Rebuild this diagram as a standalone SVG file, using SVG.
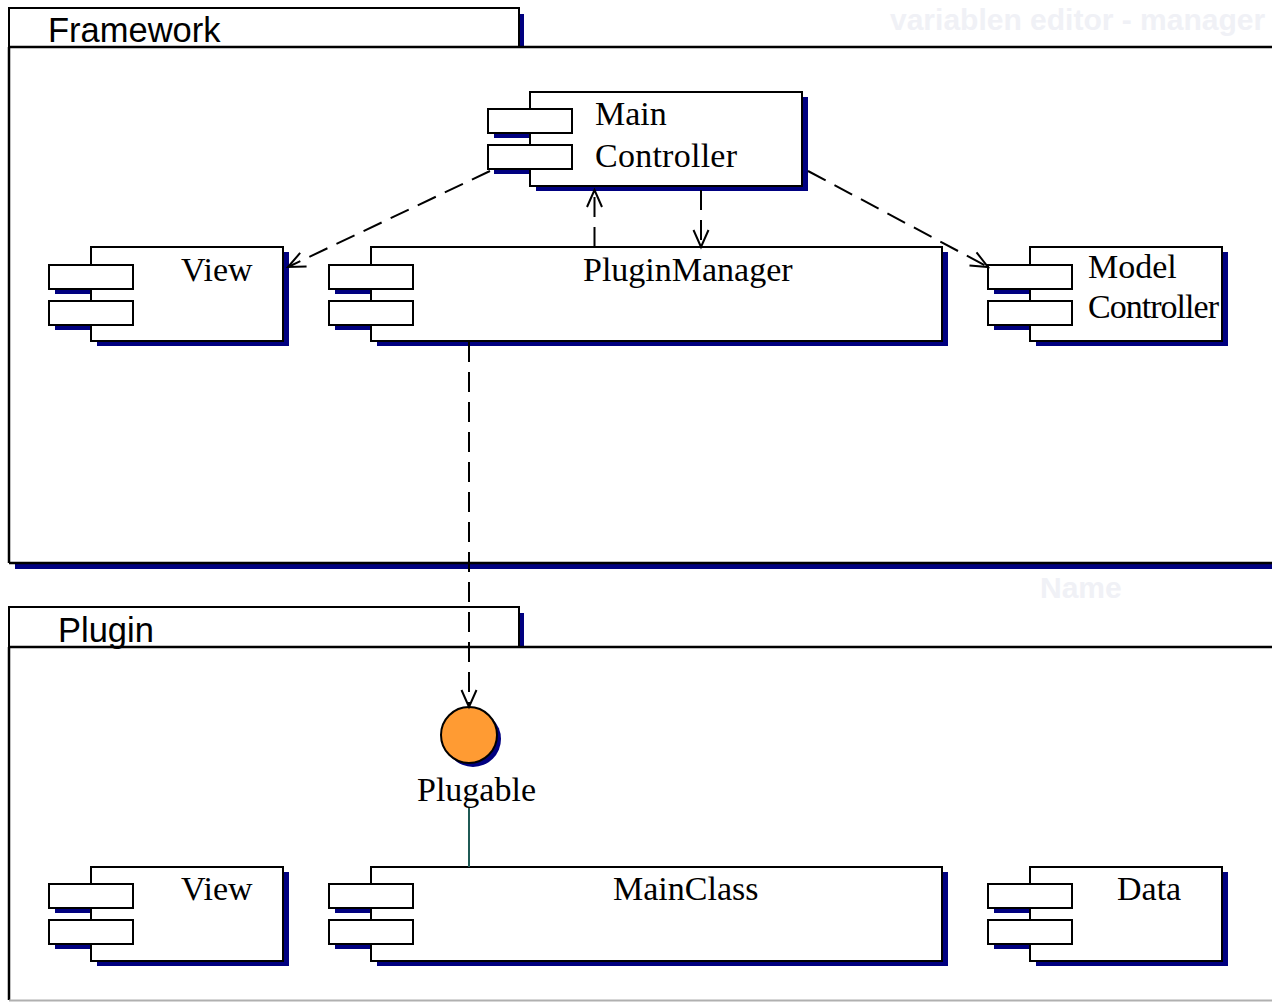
<svg xmlns="http://www.w3.org/2000/svg" width="1272" height="1002" viewBox="0 0 1272 1002">
  <style>
    .pkg { fill: #ffffff; stroke: #000000; stroke-width: 2; }
    .edge { stroke: #000000; stroke-width: 2.5; fill: none; }
    .shadow { fill: #000080; }
    .box { fill: #ffffff; stroke: #000000; stroke-width: 2; }
    .pkgname { font-family: "Liberation Sans", Arial, sans-serif; font-size: 34.5px; fill: #000000; }
    .label { font-family: "Liberation Serif", "Times New Roman", serif; font-size: 34px; fill: #000000; }
    .ghost { font-family: "Liberation Sans", Arial, sans-serif; font-weight: bold; font-size: 30px; fill: #f0f1f6; }
    .dep { stroke: #000000; stroke-width: 2; fill: none; stroke-dasharray: 20 10; }
    .link { stroke: #1f5a55; stroke-width: 2; fill: none; }
  </style>
  <defs>
    <marker id="open" markerUnits="userSpaceOnUse" markerWidth="24" markerHeight="20" viewBox="-20 -10 24 20" refX="0" refY="0" orient="auto">
      <path d="M -17 -7.5 L 0 0 L -17 7.5" fill="none" stroke="#000000" stroke-width="2" stroke-dasharray="none"/>
    </marker>
  </defs>

  <rect width="1272" height="1002" fill="#ffffff"/>

  <!-- faint background lettering -->
  <text class="ghost" x="890" y="30">variablen editor - manager</text>
  <text class="ghost" x="1040" y="598" font-size="26px">Name</text>

  <!-- Framework package -->
  <g id="pkg-framework">
    <rect class="shadow" x="519" y="14" width="5" height="33"/>
    <rect class="shadow" x="15" y="564" width="1257" height="5"/>
    <rect class="pkg" x="9" y="8" width="510" height="39"/>
    <path class="edge" d="M 9 47 L 1272 47 M 9 47 L 9 563 M 9 563 L 1272 563"/>
    <text class="pkgname" x="48" y="42">Framework</text>
  </g>

  <!-- Plugin package -->
  <g id="pkg-plugin">
    <rect class="shadow" x="519" y="613" width="5" height="34"/>
    <rect class="pkg" x="9" y="607" width="510" height="40"/>
    <path class="edge" d="M 9 647 L 1272 647 M 9 647 L 9 1000"/>
    <path d="M 9 1000.5 L 1272 1000.5" stroke="#b0b0b0" stroke-width="2"/>
    <text class="pkgname" x="58" y="642">Plugin</text>
  </g>

  <!-- Main Controller -->
  <g id="main-controller">
    <rect class="shadow" x="494" y="114" width="84" height="24"/>
    <rect class="shadow" x="494" y="150" width="84" height="24"/>
    <rect class="shadow" x="536" y="97" width="272" height="94"/>
    <rect class="box" x="530" y="92" width="272" height="94"/>
    <rect class="box" x="488" y="109" width="84" height="24"/>
    <rect class="box" x="488" y="145" width="84" height="24"/>
    <text class="label" x="595" y="125">Main</text>
    <text class="label" x="595" y="167" textLength="142">Controller</text>
  </g>

  <!-- View (framework) -->
  <g id="fw-view">
    <rect class="shadow" x="55" y="270" width="84" height="24"/>
    <rect class="shadow" x="55" y="306" width="84" height="24"/>
    <rect class="shadow" x="97" y="252" width="192" height="94"/>
    <rect class="box" x="91" y="247" width="192" height="94"/>
    <rect class="box" x="49" y="265" width="84" height="24"/>
    <rect class="box" x="49" y="301" width="84" height="24"/>
    <text class="label" x="181" y="281">View</text>
  </g>

  <!-- PluginManager -->
  <g id="plugin-manager">
    <rect class="shadow" x="335" y="270" width="84" height="24"/>
    <rect class="shadow" x="335" y="306" width="84" height="24"/>
    <rect class="shadow" x="377" y="252" width="571" height="94"/>
    <rect class="box" x="371" y="247" width="571" height="94"/>
    <rect class="box" x="329" y="265" width="84" height="24"/>
    <rect class="box" x="329" y="301" width="84" height="24"/>
    <text class="label" x="583" y="281">PluginManager</text>
  </g>

  <!-- Model Controller -->
  <g id="model-controller">
    <rect class="shadow" x="994" y="270" width="84" height="24"/>
    <rect class="shadow" x="994" y="306" width="84" height="24"/>
    <rect class="shadow" x="1036" y="252" width="192" height="94"/>
    <rect class="box" x="1030" y="247" width="192" height="94"/>
    <rect class="box" x="988" y="265" width="84" height="24"/>
    <rect class="box" x="988" y="301" width="84" height="24"/>
    <text class="label" x="1088" y="278" font-size="32px">Model</text>
    <text class="label" x="1088" y="318" font-size="32px" textLength="131">Controller</text>
  </g>

  <!-- Plugable interface -->
  <g id="plugable">
    <circle cx="473" cy="739" r="28" fill="#000080"/>
    <circle cx="469" cy="735" r="28" fill="#ff9b33" stroke="#000000" stroke-width="2"/>
    <text class="label" x="417" y="801">Plugable</text>
  </g>

  <!-- View (plugin) -->
  <g id="pl-view">
    <rect class="shadow" x="55" y="889" width="84" height="24"/>
    <rect class="shadow" x="55" y="925" width="84" height="24"/>
    <rect class="shadow" x="97" y="872" width="192" height="94"/>
    <rect class="box" x="91" y="867" width="192" height="94"/>
    <rect class="box" x="49" y="884" width="84" height="24"/>
    <rect class="box" x="49" y="920" width="84" height="24"/>
    <text class="label" x="181" y="900">View</text>
  </g>

  <!-- MainClass -->
  <g id="main-class">
    <rect class="shadow" x="335" y="889" width="84" height="24"/>
    <rect class="shadow" x="335" y="925" width="84" height="24"/>
    <rect class="shadow" x="377" y="872" width="571" height="94"/>
    <rect class="box" x="371" y="867" width="571" height="94"/>
    <rect class="box" x="329" y="884" width="84" height="24"/>
    <rect class="box" x="329" y="920" width="84" height="24"/>
    <text class="label" x="613" y="900">MainClass</text>
  </g>

  <!-- Data -->
  <g id="data">
    <rect class="shadow" x="994" y="889" width="84" height="24"/>
    <rect class="shadow" x="994" y="925" width="84" height="24"/>
    <rect class="shadow" x="1036" y="872" width="192" height="94"/>
    <rect class="box" x="1030" y="867" width="192" height="94"/>
    <rect class="box" x="988" y="884" width="84" height="24"/>
    <rect class="box" x="988" y="920" width="84" height="24"/>
    <text class="label" x="1117" y="900">Data</text>
  </g>

  <!-- dependencies -->
  <g id="connectors">
    <line class="dep" x1="490" y1="171" x2="288" y2="267" marker-end="url(#open)"/>
    <line class="dep" x1="808" y1="171" x2="988" y2="267" marker-end="url(#open)"/>
    <line class="dep" x1="594.5" y1="247" x2="594.5" y2="190" stroke-dasharray="30 10" marker-end="url(#open)"/>
    <line class="dep" x1="701" y1="190" x2="701" y2="247" stroke-dasharray="20 10" marker-end="url(#open)"/>
    <line class="dep" x1="469" y1="342" x2="469" y2="707" marker-end="url(#open)"/>
    <line class="link" x1="469" y1="808" x2="469" y2="867"/>
  </g>
</svg>
